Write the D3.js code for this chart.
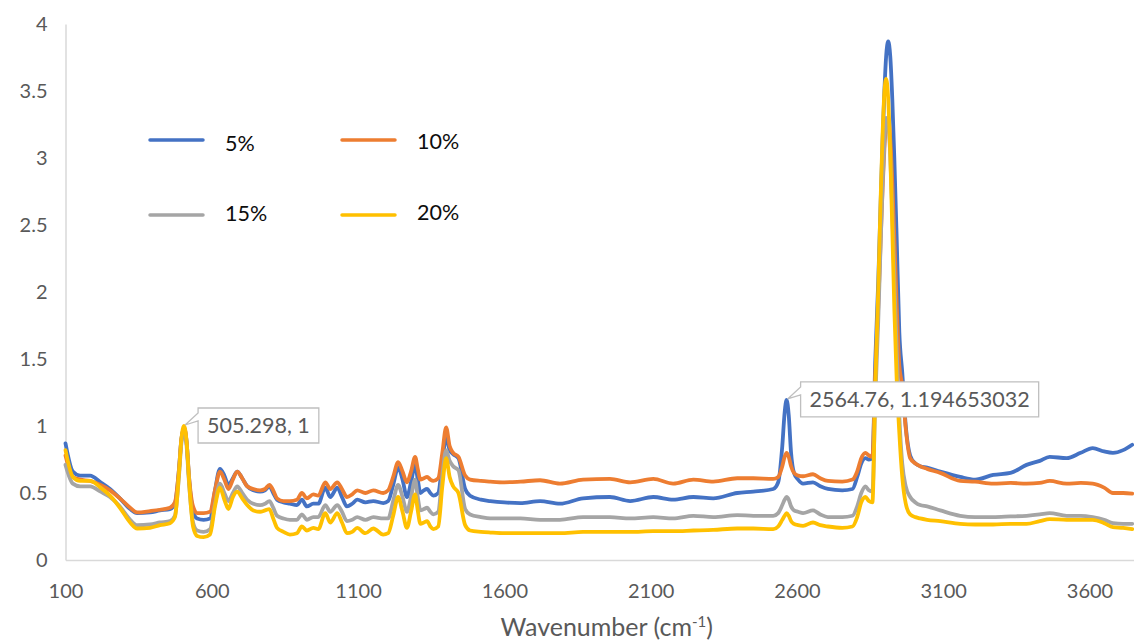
<!DOCTYPE html>
<html>
<head>
<meta charset="utf-8">
<script src="https://cdn.jsdelivr.net/npm/d3@7"></script>
<style>
  body { margin: 0; background: #fff; }
  svg { display: block; font-family: Lato, "Open Sans", sans-serif; }
</style>
</head>
<body>
<svg id="chart" width="1134" height="641"></svg>
<script>
// Raman shift axis (cm-1), shared by all four spectra
const wavenumbers = [
  100,125,150,184,220,252,286,321,345,389,
  423,457,474,488,496,505.298,514,522,536,550,
  572,594,611,628,643,657,672,687,704,721,
  742,765,782,797,810,823,845,867,891,908,
  925,947,964,988,1005,1029,1045,1062,1080,1097,
  1125,1152,1186,1203,1220,1237,1252,1267,1281,1295,
  1304,1313,1325,1336,1347,1357,1374,1388,1401,1413,
  1425,1443,1466,1483,1520,1552,1600,1655,1722,1790,
  1869,1961,2030,2109,2177,2246,2314,2396,2451,2519,
  2536,2550,2558,2564.76,2572,2580,2590,2604,2621,2655,
  2680,2706,2755,2790,2806,2820,2834,2846,2858,2868,
  2878,2886,2893,2899,2905,2912,2919,2926,2933,2941,
  2950,2960,2972,2987,3005,3021,3045,3090,3158,3209,
  3271,3330,3385,3430,3464,3522,3570,3611,3650,3680,
  3715,3746
];

const intensity5 = [
  .87,.66,.63,.63,.58,.53,.46,.38,.35,.355,
  .37,.38,.42,.68,.90,.98,.88,.62,.36,.31,
  .30,.31,.52,.68,.63,.56,.61,.66,.61,.55,
  .52,.51,.52,.55,.50,.45,.43,.42,.41,.45,
  .40,.42,.42,.54,.47,.54,.47,.40,.42,.45,
  .43,.44,.425,.44,.56,.69,.60,.47,.58,.71,
  .60,.50,.52,.53,.50,.48,.50,.72,.92,.82,
  .79,.76,.53,.48,.45,.44,.43,.425,.44,.42,
  .46,.47,.44,.47,.45,.47,.46,.50,.51,.53,
  .58,.85,1.10,1.194653032,1.08,.80,.65,.60,.57,.58,
  .55,.53,.52,.53,.62,.72,.76,.75,.76,1.50,
  2.08,2.65,3.14,3.50,3.76,3.87,3.76,3.44,2.99,2.40,
  1.70,1.40,1.00,.78,.72,.70,.69,.66,.62,.60,
  .635,.65,.71,.74,.77,.76,.80,.835,.81,.80,
  .82,.86
];

const intensity10 = [
  .78,.62,.60,.59,.56,.52,.46,.39,.355,.365,
  .375,.39,.43,.68,.90,.99,.88,.63,.40,.35,
  .35,.36,.52,.66,.60,.53,.60,.66,.61,.55,
  .53,.52,.53,.56,.52,.46,.44,.44,.45,.50,
  .46,.49,.48,.58,.53,.58,.53,.47,.49,.52,
  .50,.52,.50,.52,.62,.73,.66,.58,.66,.77,
  .68,.60,.61,.62,.60,.59,.61,.80,.99,.85,
  .80,.77,.63,.60,.59,.585,.58,.585,.595,.57,
  .60,.605,.58,.605,.57,.60,.585,.61,.61,.605,
  .62,.70,.77,.80,.77,.70,.65,.63,.625,.64,
  .61,.59,.585,.60,.66,.76,.80,.78,.77,1.39,
  1.89,2.37,2.78,3.07,3.25,3.30,3.14,2.82,2.40,1.91,
  1.45,1.30,.98,.76,.72,.70,.68,.65,.59,.585,
  .57,.575,.57,.575,.59,.57,.575,.57,.54,.50,
  .50,.495
];

const intensity15 = [
  .71,.57,.55,.55,.51,.47,.40,.30,.26,.265,
  .28,.29,.33,.63,.87,.96,.85,.58,.28,.22,
  .21,.23,.42,.57,.50,.44,.50,.55,.50,.45,
  .42,.41,.42,.44,.39,.33,.31,.30,.30,.34,
  .30,.32,.32,.41,.36,.41,.36,.29,.30,.32,
  .30,.32,.31,.31,.44,.56,.47,.36,.47,.60,
  .47,.37,.38,.39,.36,.34,.36,.63,.82,.74,
  .70,.67,.38,.34,.32,.31,.31,.31,.30,.30,
  .32,.32,.31,.32,.31,.33,.32,.335,.33,.33,
  .35,.41,.45,.47,.45,.40,.37,.36,.35,.37,
  .34,.32,.32,.33,.40,.50,.55,.52,.51,1.21,
  1.79,2.35,2.81,3.12,3.30,3.26,3.02,2.60,2.10,1.56,
  1.07,.72,.55,.47,.43,.41,.40,.37,.33,.32,
  .32,.325,.33,.34,.35,.33,.33,.32,.30,.275,
  .27,.27
];

const intensity20 = [
  .82,.62,.59,.59,.54,.48,.39,.28,.235,.24,
  .26,.275,.32,.65,.90,1,.88,.60,.25,.18,
  .17,.19,.40,.54,.45,.38,.47,.51,.46,.41,
  .37,.36,.37,.38,.31,.24,.21,.19,.20,.25,
  .22,.24,.23,.35,.28,.35,.28,.20,.21,.24,
  .20,.235,.19,.20,.33,.47,.36,.24,.36,.49,
  .37,.27,.28,.29,.25,.23,.25,.55,.76,.62,
  .55,.50,.26,.22,.21,.205,.20,.20,.20,.20,
  .21,.21,.21,.215,.215,.22,.225,.235,.235,.23,
  .25,.30,.33,.35,.33,.29,.27,.26,.255,.28,
  .26,.25,.24,.25,.32,.43,.47,.44,.43,1.30,
  2.02,2.68,3.19,3.49,3.59,3.44,3.03,2.47,1.87,1.35,
  .95,.62,.42,.34,.32,.31,.30,.29,.27,.265,
  .265,.27,.27,.29,.305,.30,.30,.30,.275,.245,
  .24,.23
];

const seriesNames = ["5%", "10%", "15%", "20%"];
const seriesColors = ["#4472C4", "#ED7D31", "#A5A5A5", "#FFC000"];
const xTickValues = [100, 600, 1100, 1600, 2100, 2600, 3100, 3600];
const yTickValues = [0, 0.5, 1, 1.5, 2, 2.5, 3, 3.5, 4];
// labelled points: [series index, wavenumber, intensity]
const labelledPoints = [[3, 505.298, 1], [0, 2564.76, 1.194653032]];

const series = [intensity5, intensity10, intensity15, intensity20].map((vals, i) => ({
  name: seriesNames[i],
  color: seriesColors[i],
  points: d3.zip(wavenumbers, vals)
}));

const svg = d3.select("#chart");

const x = d3.scaleLinear().domain([100, 3800]).range([65.5, 1148]);
const y = d3.scaleLinear().domain([0, 4]).range([560, 24]);

// axes
const xAxis = svg.append("g")
  .attr("transform", `translate(0,${y(0)})`)
  .call(d3.axisBottom(x).tickValues(xTickValues).tickSize(0).tickSizeOuter(0).tickPadding(24)
    .tickFormat(d => String(d)));
xAxis.select(".domain").attr("stroke", "#D9D9D9").attr("stroke-width", 1.5);
xAxis.selectAll("text").attr("fill", "#595959").style("font-size", "20px").style("font-family", "Lato");

const yAxis = svg.append("g")
  .attr("transform", `translate(${x(100)},0)`)
  .call(d3.axisLeft(y).tickValues(yTickValues).tickSize(0).tickSizeOuter(0).tickPadding(18)
    .tickFormat(d => String(d)));
yAxis.select(".domain").attr("stroke", "#D9D9D9").attr("stroke-width", 1.5);
yAxis.selectAll("text").attr("fill", "#595959").style("font-size", "20px").style("font-family", "Lato");

// axis title
const title = svg.append("text")
  .attr("x", (x.range()[0] + x.range()[1]) / 2)
  .attr("y", 636)
  .attr("text-anchor", "middle")
  .attr("fill", "#595959")
  .style("font-size", "25px");
title.append("tspan").text("Wavenumber (cm");
title.append("tspan").attr("dy", -9).style("font-size", "15px").text("-1");
title.append("tspan").attr("dy", 9).text(")");

// spectra
const line = d3.line()
  .x(d => x(d[0]))
  .y(d => y(d[1]))
  .curve(d3.curveMonotoneX);

svg.append("g").selectAll("path")
  .data(series)
  .join("path")
  .attr("d", d => line(d.points))
  .attr("fill", "none")
  .attr("stroke", d => d.color)
  .attr("stroke-width", 3.8)
  .attr("stroke-linejoin", "round")
  .attr("stroke-linecap", "round");

// legend (2 x 2)
const legendPos = [[150, 140], [342, 140], [150, 215], [342, 215]];
const legendTextDy = [3, 1, -2, -3];
const legend = svg.append("g");
series.forEach((s, i) => {
  const [lx, ly] = legendPos[i];
  legend.append("line")
    .attr("x1", lx).attr("x2", lx + 53)
    .attr("y1", ly).attr("y2", ly)
    .attr("stroke", s.color).attr("stroke-width", 3.5).attr("stroke-linecap", "round");
  legend.append("text")
    .attr("x", lx + 75).attr("y", ly + legendTextDy[i])
    .attr("dy", "0.36em")
    .attr("fill", "#0d0d0d")
    .style("font-size", "21.5px")
    .text(s.name);
});

// value callouts
const calloutLayer = svg.append("g");
labelledPoints.forEach(([si, wx, wy]) => {
  const px = x(wx), py = y(wy);
  const left = px + 14, top = py - 18, pad = 9, h = 35;
  const g = calloutLayer.append("g");
  const shape = g.append("path");
  const txt = g.append("text")
    .attr("x", left + pad)
    .attr("y", top + h / 2)
    .attr("dy", "0.36em")
    .attr("fill", "#595959")
    .style("font-size", "21.5px")
    .text(`${wx}, ${wy}`);
  const w = txt.node().getComputedTextLength() + pad * 2;
  const p = d3.path();
  p.moveTo(left, top);
  p.lineTo(left + w, top);
  p.lineTo(left + w, top + h);
  p.lineTo(left, top + h);
  p.lineTo(left, top + 13);
  p.lineTo(px + 1, py - 1);
  p.lineTo(left, top + 5);
  p.closePath();
  shape.attr("d", p.toString())
    .attr("fill", "#fff")
    .attr("stroke", "#BFBFBF")
    .attr("stroke-width", 1.3);
});
</script>
</body>
</html>
